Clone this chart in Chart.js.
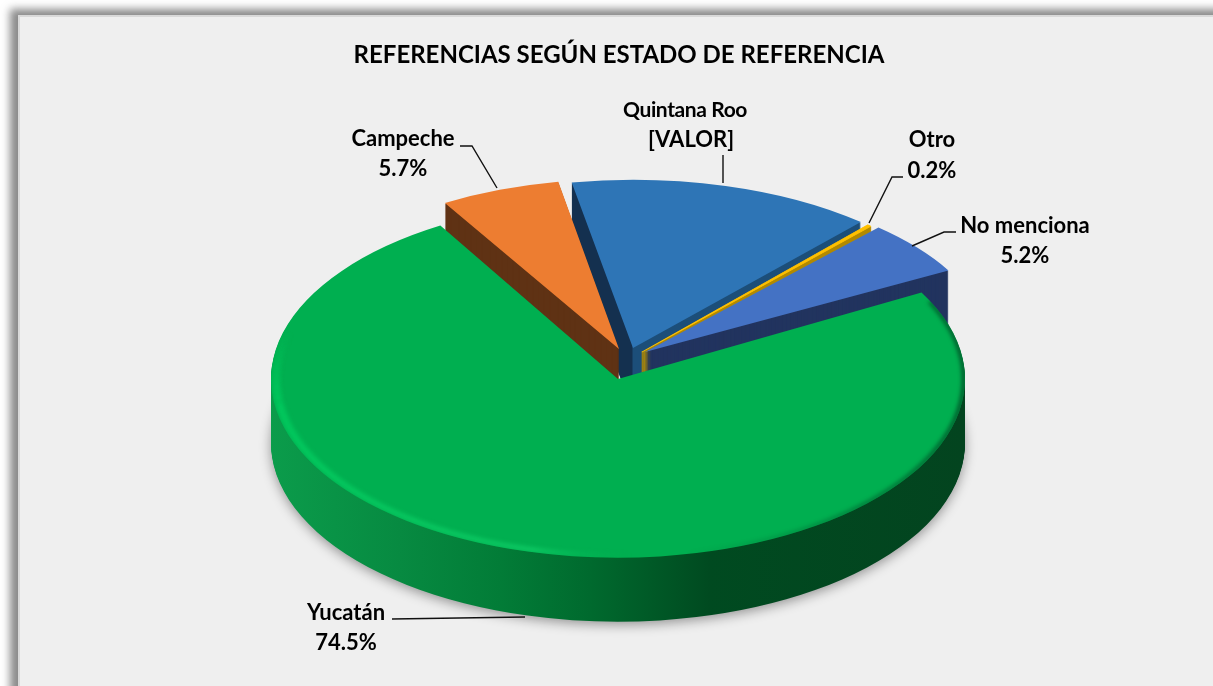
<!DOCTYPE html>
<html><head><meta charset="utf-8">
<style>
html,body{margin:0;padding:0;width:1213px;height:686px;overflow:hidden;background:#fff}
#panel{position:absolute;left:18px;top:15px;width:1300px;height:800px;box-sizing:border-box;background:#EFEFEF;border:2px solid #D9D9D9;box-shadow:-3px -1px 8px 5px rgba(110,110,110,.8)}
#wrap{position:absolute;left:0;top:0;width:1213px;height:686px}
</style>
<script src="https://cdn.jsdelivr.net/npm/chart.js@4"></script>
</head><body>
<div id="panel"></div>
<div id="wrap"><canvas id="c" width="1213" height="686"></canvas></div>
<script>
const chartTitle = 'REFERENCIAS SEGÚN ESTADO DE REFERENCIA';
const categories = ['Yucatán','Campeche','Quintana Roo','Otro','No menciona'];
const values = [74.5,5.7,14.4,0.2,5.2];
const valueLabels = ['74.5%','5.7%','[VALOR]','0.2%','5.2%'];

const FONT = 'Lato';
const topColors = ['#00AF50','#ED7D31','#2E75B6','#FFC000','#4472C4'];
// explosion of each slice (screen px from pie centre), its perspective scale and tilt
const explodeX = [-1,0,14,23,26];
const explodeY = [12,-18,-19,-15,-15];
const sliceScale = [1,.98,.99,.98,1];
const tilt = [.515,.5,.49,.5,.485];
const edgeWidth = [0,0,0,1.2,0];
const DEPTH = 64;
const drawOrder = [2,3,4,1,0];
// label x, first-line y, second-line y, second-line x, first-line font size, first-line tracking
const labelPos = [[346,613,643,346,22,0],[403,139,169,403,22,0],[685,110,140,691,21,-0.4],[932,140,171,932,22,0],[1025,226,256,1025,22,0]];
const leaders = [
 [[392,619],[525,617]],
 [[460,146],[472,146],[497,188]],
 [[723,155],[723,183]],
 [[903,177],[892,177],[869,223]],
 [[956,232],[944,232],[912,246]]
];

function wallFill(ctx,i,el){
  const s=sliceScale[i], dx=explodeX[i];
  const loc=x=>el.x+(x-dx-el.x)/s;
  const g=(stops)=>{const a=loc(stops[0][0]),b=loc(stops[stops.length-1][0]);
    const gr=ctx.createLinearGradient(a,0,b,0);
    stops.forEach(([x,c])=>gr.addColorStop((loc(x)-a)/(b-a),c));return gr;};
  if(i===0) return g([[270,'#0B9C4B'],[400,'#078A41'],[500,'#027C37'],[590,'#006A2E'],[710,'#004A20'],[965,'#03441F']]);
  if(i===1) return '#5F3214';
  if(i===2) return g([[560,'#14304F'],[632,'#14304F'],[633,'#1C4E79'],[870,'#1C4E79']]);
  if(i===3) return '#B38A00';
  return '#22345F';
}
function drawSlice(ctx,el,i,fill,k,shadow,edge){
  const p=Object.create(el);
  p.options={backgroundColor:fill,borderColor:edge||fill,borderWidth:edgeWidth[i],borderAlign:'center',offset:0,spacing:0,
    circular:true,borderRadius:0,borderDash:[],borderDashOffset:0,borderJoinStyle:'round'};
  ctx.save();
  if(shadow){ctx.shadowColor='rgba(0,0,0,.38)';ctx.shadowBlur=12;ctx.shadowOffsetY=3;}
  ctx.translate(explodeX[i],explodeY[i]+k);
  ctx.translate(el.x,el.y);ctx.scale(sliceScale[i],sliceScale[i]*tilt[i]);ctx.translate(-el.x,-el.y);
  p.draw(ctx);
  ctx.restore();
}
function drawRim(ctx,el,i){
  ctx.save();
  ctx.translate(explodeX[i],explodeY[i]);
  ctx.translate(el.x,el.y);ctx.scale(1,tilt[i]);ctx.translate(-el.x,-el.y);
  ctx.beginPath();ctx.moveTo(el.x,el.y);ctx.arc(el.x,el.y,el.outerRadius,el.startAngle,el.endAngle);ctx.closePath();ctx.clip();
  const lg=ctx.createLinearGradient(270,0,965,0);
  lg.addColorStop(0,'rgba(0,205,95,.8)');
  lg.addColorStop(.38,'rgba(20,215,110,.7)');
  lg.addColorStop(.52,'rgba(0,176,80,0)');
  lg.addColorStop(1,'rgba(0,176,80,0)');
  ctx.filter='blur(2px)';
  ctx.strokeStyle=lg;ctx.lineWidth=8;
  ctx.beginPath();ctx.arc(el.x,el.y,el.outerRadius-5,0.6,Math.PI*0.96);ctx.stroke();
  for(let n=0;n<12;n++){
    ctx.globalAlpha=1-n/12;
    ctx.beginPath();ctx.arc(el.x,el.y,el.outerRadius-5,Math.PI*(0.96+n*0.01),Math.PI*(0.96+(n+1)*0.01)+.004);ctx.stroke();
  }
  ctx.globalAlpha=1;
  const dg=ctx.createLinearGradient(270,0,965,0);
  dg.addColorStop(.6,'rgba(0,70,35,0)');
  dg.addColorStop(.85,'rgba(0,70,35,.7)');
  dg.addColorStop(1,'rgba(0,60,30,.85)');
  ctx.strokeStyle=dg;ctx.lineWidth=4;
  ctx.beginPath();ctx.arc(el.x,el.y,el.outerRadius-1,-0.45,1.4);ctx.stroke();
  ctx.restore();
}
const pie3d={id:'pie3d',
  beforeDatasetDraw(chart){
    const ctx=chart.ctx, arcs=chart.getDatasetMeta(0).data;
    drawOrder.forEach(i=>{
      const el=arcs[i], w=wallFill(ctx,i,el);
      for(let k=DEPTH;k>=1;k--) drawSlice(ctx,el,i,w,k,k===DEPTH&&i===0);
      drawSlice(ctx,el,i,topColors[i],0,false);
      if(i===0) drawRim(ctx,el,i);
    });
    return false;
  },
  afterDraw(chart){
    const ctx=chart.ctx;
    ctx.save();
    ctx.strokeStyle='#111';ctx.lineWidth=1.4;
    leaders.forEach(l=>{ctx.beginPath();l.forEach(([x,y],j)=>j?ctx.lineTo(x,y):ctx.moveTo(x,y));ctx.stroke();});
    ctx.fillStyle='#000';ctx.textAlign='center';ctx.textBaseline='middle';
    categories.forEach((c,i)=>{
      const [x,y1,y2,x2,size,track]=labelPos[i];
      ctx.letterSpacing=track+'px';
      ctx.font='700 '+size+'px '+FONT;ctx.fillText(c,x,y1);
      ctx.letterSpacing='0px';
      ctx.font='700 22px '+FONT;ctx.fillText(valueLabels[i],x2,y2);
    });
    ctx.restore();
  }
};
new Chart(document.getElementById('c'),{
  type:'pie',
  data:{labels:categories,datasets:[{data:values,backgroundColor:topColors,borderWidth:0}]},
  plugins:[pie3d],
  options:{
    responsive:false,animation:false,events:[],
    rotation:61,radius:347,
    layout:{padding:{left:25,right:0,top:0,bottom:21}},
    plugins:{
      legend:{display:false},tooltip:{enabled:false},
      title:{display:true,text:chartTitle,color:'#000',font:{family:FONT,size:24,weight:'700',lineHeight:1.13},padding:{top:42,bottom:0}}
    }
  }
});
</script>
</body></html>
